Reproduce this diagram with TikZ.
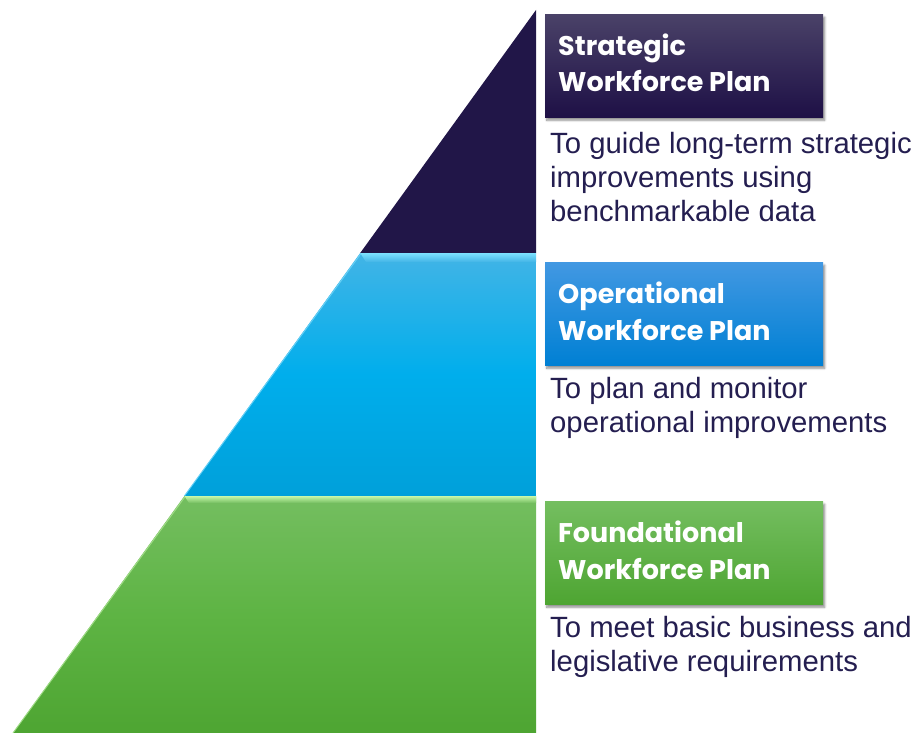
\documentclass[tikz,border=0pt]{standalone}
\usepackage{fontspec}
\setmainfont{Liberation Sans}
\newfontfamily\titlefont{Poppins}
\usetikzlibrary{shadows.blur}

% Colour palette
\definecolor{navy}{RGB}{33,22,72}
\definecolor{navyTop}{RGB}{74,66,104}
\definecolor{navyBot}{RGB}{30,16,70}
\definecolor{skyTop}{RGB}{66,180,230}
\definecolor{skyMid}{RGB}{0,174,236}
\definecolor{skyBot}{RGB}{0,160,218}
\definecolor{skyGlow}{RGB}{125,225,255}
\definecolor{blueTop}{RGB}{66,152,226}
\definecolor{blueBot}{RGB}{0,128,212}
\definecolor{grassTop}{RGB}{116,190,96}
\definecolor{grassMid}{RGB}{94,180,68}
\definecolor{grassBot}{RGB}{78,165,50}
\definecolor{grassGlow}{RGB}{200,248,170}
\definecolor{descText}{RGB}{36,30,80}

\tikzset{
  planbox/.style={rectangle, inner sep=0pt, minimum width=278pt, minimum height=103pt,
    anchor=north west,
    blur shadow={shadow xshift=1.5pt, shadow yshift=-3pt, shadow blur steps=6, shadow opacity=45}},
  % base anchor of a multi-line node sits on its last line
  plantitle/.style={anchor=base west, inner sep=0pt, text=white, align=left,
    font=\titlefont\bfseries\fontsize{27}{36.5}\selectfont},
  plandesc/.style={anchor=base west, inner sep=0pt, text=descText, align=left,
    font=\fontsize{29.3}{34.2}\selectfont},
}

\begin{document}
\begin{tikzpicture}[x=1pt, y=-1pt]
  \useasboundingbox (0,0) rectangle (915,733);

  % Pyramid apex, tier boundaries and base
  \coordinate (apex) at (536,10);
  \coordinate (t1l) at (360.2,253);
  \coordinate (t1r) at (536,253);
  \coordinate (t2l) at (184.4,496);
  \coordinate (t2r) at (536,496);
  \coordinate (bl) at (13,733);
  \coordinate (br) at (536,733);

  % Top tier
  \fill[navy] (apex) -- (t1l) -- (t1r) -- cycle;

  % Middle tier
  \shade[top color=skyTop, bottom color=skyBot, middle color=skyMid]
    (t1l) -- (t1r) -- (t2r) -- (t2l) -- cycle;
  \shade[top color=skyGlow, bottom color=skyTop]
    (t1l) -- (t1r) -- (536,262) -- (366,262) -- cycle;
  \draw[skyGlow!60!skyTop, line width=1pt] (360.6,254) -- (t2l);

  % Bottom tier
  \shade[top color=grassTop, bottom color=grassBot, middle color=grassMid]
    (t2l) -- (t2r) -- (br) -- (bl) -- cycle;
  \shade[top color=grassGlow, bottom color=grassTop]
    (t2l) -- (t2r) -- (536,503) -- (189,503) -- cycle;
  \draw[grassGlow!50!grassTop, line width=1pt] (184.8,497) -- (bl);

  % Label boxes
  \node[planbox, top color=navyTop, bottom color=navyBot] (sbox) at (545,14) {};
  \node[planbox, top color=blueTop, bottom color=blueBot] (obox) at (545,262) {};
  \node[planbox, top color=grassTop, bottom color=grassBot] (fbox) at (545,501) {};

  % Box titles
  \node[plantitle] (stitle) at (558,92) {Strategic\\Workforce Plan};
  \node[plantitle] (otitle) at (558,340) {Operational\\Workforce Plan};
  \node[plantitle] (ftitle) at (558,579) {Foundational\\Workforce Plan};

  % Descriptions
  \node[plandesc] (sdesc) at (550,221.5) {To guide long-term strategic\\improvements using\\benchmarkable data};
  \node[plandesc] (odesc) at (550,432.5) {To plan and monitor\\operational improvements};
  \node[plandesc] (fdesc) at (550,671.5) {To meet basic business and\\legislative requirements};
\end{tikzpicture}
\end{document}
